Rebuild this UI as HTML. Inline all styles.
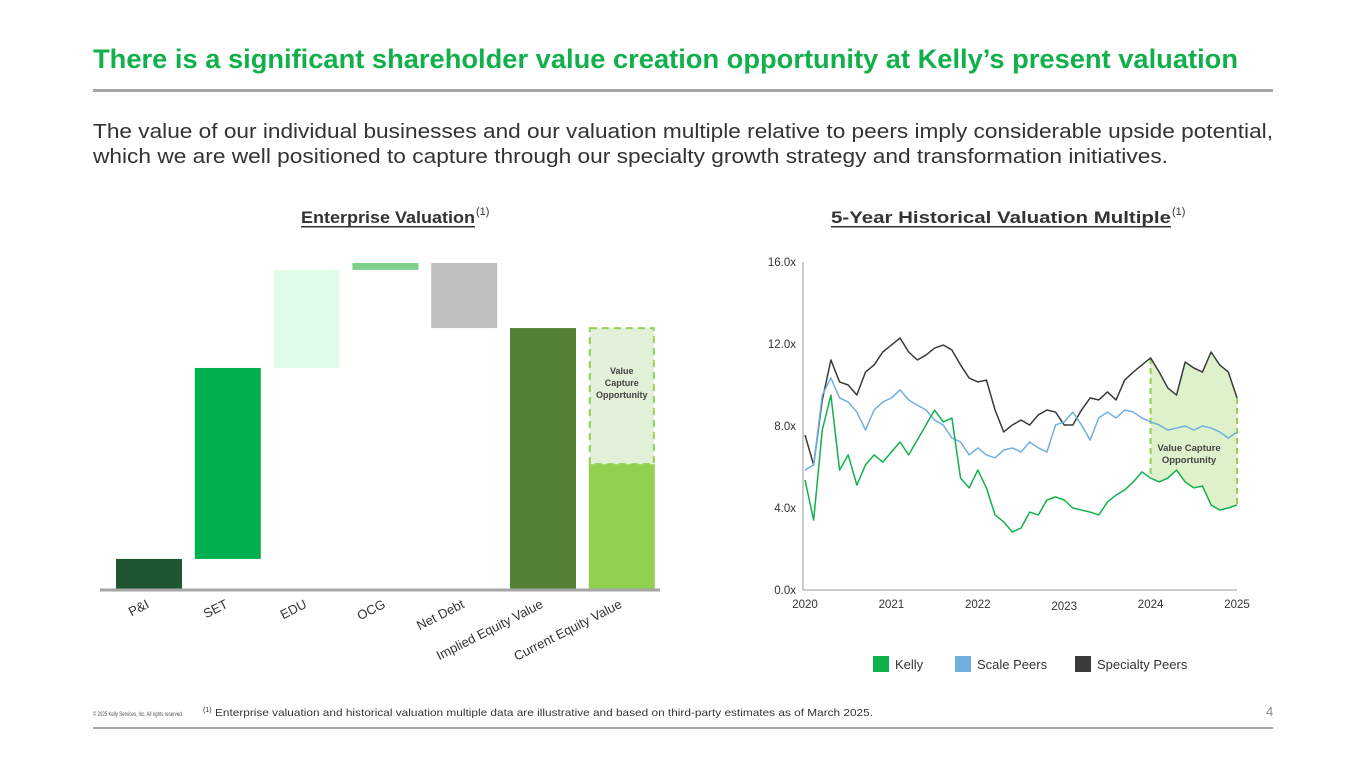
<!DOCTYPE html>
<html><head><meta charset="utf-8"><style>
html,body{margin:0;padding:0;background:#fff;}
svg{display:block;font-family:"Liberation Sans",sans-serif;}
</style></head><body>
<svg id="page" width="1365" height="768" viewBox="0 0 1365 768">
  <text x="93" y="68" font-size="27" font-weight="bold" fill="#12b04c" textLength="1145" lengthAdjust="spacingAndGlyphs">There is a significant shareholder value creation opportunity at Kelly’s present valuation</text>
  <rect x="93" y="89" width="1180" height="3" fill="#a6a6a6"/>
  <text x="93" y="138" font-size="20" fill="#333" textLength="1180" lengthAdjust="spacingAndGlyphs">The value of our individual businesses and our valuation multiple relative to peers imply considerable upside potential,</text>
  <text x="93" y="163" font-size="20" fill="#333" textLength="1075" lengthAdjust="spacingAndGlyphs">which we are well positioned to capture through our specialty growth strategy and transformation initiatives.</text>

  <text x="301" y="223" font-size="17" font-weight="bold" fill="#333" textLength="174" lengthAdjust="spacingAndGlyphs">Enterprise Valuation</text>
  <text x="476" y="215" font-size="11" fill="#333">(1)</text>
  <rect x="301" y="226" width="174" height="1.5" fill="#333"/>

  <text x="831" y="223" font-size="17" font-weight="bold" fill="#333" textLength="340" lengthAdjust="spacingAndGlyphs">5-Year Historical Valuation Multiple</text>
  <text x="1172" y="215" font-size="11" fill="#333">(1)</text>
  <rect x="831" y="226" width="340" height="1.5" fill="#333"/>

  <g id="waterfall"></g>
  <g id="linechart"></g>

  <text x="93" y="716" font-size="6.5" fill="#555" textLength="90" lengthAdjust="spacingAndGlyphs">© 2025 Kelly Services, Inc. All rights reserved.</text>
  <text x="203" y="712" font-size="7" fill="#333">(1)</text>
  <text x="215" y="716" font-size="10.5" fill="#333" textLength="658" lengthAdjust="spacingAndGlyphs">Enterprise valuation and historical valuation multiple data are illustrative and based on third-party estimates as of March 2025.</text>
  <text x="1266" y="716" font-size="13" fill="#888">4</text>
  <rect x="93" y="727" width="1180" height="2" fill="#a6a6a6"/>
</svg>
<script>
const NS="http://www.w3.org/2000/svg";
function mk(tag,attrs,parent){const e=document.createElementNS(NS,tag);for(const k in attrs)e.setAttribute(k,attrs[k]);parent.appendChild(e);return e;}

// ---------- Waterfall data ----------
const wfCategories=["P&I","SET","EDU","OCG","Net Debt","Implied Equity Value","Current Equity Value"];
const wfDeltas=[9.5,58.4,30.0,2.1,-19.9];
const wfImplied=80.1;
const wfCurrent=38.5;

const wf=document.getElementById('waterfall');
const wfBase=590, wfScale=3.27, wfX0=116, wfStep=78.8, wfW=66;
const yv=v=>wfBase-v*wfScale;
const wfColors=["#1e5631","#00b04f","#e0fbe8","#7ecf8c","#bfbfbf"];
let run=0;
wfDeltas.forEach((d,i)=>{
  const a=run, b=run+d; run=b;
  const r=mk('rect',{x:wfX0+i*wfStep,y:yv(Math.max(a,b)),width:wfW,height:Math.abs(d)*wfScale,fill:wfColors[i]},wf);
  
  
});
{
  const r=mk('rect',{x:wfX0+5*wfStep,y:yv(wfImplied),width:wfW,height:wfImplied*wfScale,fill:"#538135"},wf);
  
  
  const c=mk('rect',{x:wfX0+6*wfStep,y:yv(wfCurrent),width:wfW,height:wfCurrent*wfScale,fill:"#92d050"},wf);
  
  
  const g=mk('rect',{x:wfX0+6*wfStep+1,y:yv(wfImplied),width:wfW-2,height:(wfImplied-wfCurrent)*wfScale,fill:"#e2efd9",stroke:"#92d050","stroke-width":2,"stroke-dasharray":"7,5"},wf);
  
  
  const cx=wfX0+6*wfStep+wfW/2, cy=yv((wfImplied+wfCurrent)/2)-22;
  ["Value","Capture","Opportunity"].forEach((t,i)=>{
    const tx=mk('text',{x:cx,y:cy+i*12,"font-size":9,"font-weight":"bold",fill:"#444","text-anchor":"middle"},wf);
    tx.textContent=t;
    
    
  });
}
{
  const ax=mk('line',{x1:100,x2:660,y1:wfBase,y2:wfBase,stroke:"#a6a6a6","stroke-width":3},wf);
  
  
}
wfCategories.forEach((c,i)=>{
  const ex=wfX0+i*wfStep+wfW/2+1, ey=607;
  const t=mk('text',{x:ex,y:ey,"font-size":13,fill:"#333","text-anchor":"end",transform:`rotate(-27 ${ex} ${ey})`},wf);
  t.textContent=c;
  
  
});

// ---------- Line chart data ----------
const lcDates=[];for(let i=0;i<=50;i++)lcDates.push(2020+i*0.1);
const kellyValues=[5.37,3.41,7.8,9.51,5.85,6.59,5.12,6.1,6.59,6.24,6.73,7.22,6.59,7.32,8.05,8.78,8.2,8.39,5.46,4.98,5.85,4.98,3.66,3.32,2.83,3.02,3.8,3.66,4.39,4.54,4.39,4.0,3.9,3.8,3.66,4.29,4.63,4.88,5.27,5.76,5.46,5.27,5.46,5.85,5.27,4.98,5.07,4.15,3.9,4.0,4.15];
const scaleValues=[5.85,6.1,9.51,10.34,9.37,9.17,8.68,7.8,8.78,9.17,9.37,9.76,9.27,9.02,8.78,8.29,8.05,7.41,7.22,6.59,6.93,6.59,6.44,6.83,6.93,6.73,7.22,6.93,6.73,8.05,8.2,8.68,8.05,7.32,8.39,8.68,8.39,8.78,8.68,8.39,8.2,8.05,7.8,7.9,8.0,7.8,8.0,7.9,7.71,7.41,7.71];
const specialtyValues=[7.56,6.1,9.27,11.22,10.15,10.0,9.51,10.63,10.98,11.61,11.95,12.29,11.61,11.22,11.46,11.8,11.95,11.71,10.98,10.34,10.15,10.24,8.78,7.71,8.05,8.29,8.05,8.54,8.78,8.68,8.05,8.05,8.78,9.37,9.27,9.66,9.27,10.24,10.63,10.98,11.32,10.63,9.85,9.51,11.12,10.83,10.63,11.61,10.98,10.63,9.37];
const yTicks=[0,4,8,12,16];
const yTickLabels=["0.0x","4.0x","8.0x","12.0x","16.0x"];
const xTicks=[2020,2021,2022,2023,2024,2025];
const shadeStart=2024.0;

const lc=document.getElementById('linechart');
const X=d=>805+(d-2020)*86.4;
const Y=v=>590-v*20.5;
{
  const a=mk('line',{x1:803,x2:1237,y1:590,y2:590,stroke:"#999","stroke-width":1},lc);
  
  
  const b=mk('line',{x1:803,x2:803,y1:262,y2:590,stroke:"#999","stroke-width":1},lc);
  
  
}
yTicks.forEach((v,i)=>{
  const t=mk('text',{x:796,y:Y(v)+4,"font-size":11.5,fill:"#333","text-anchor":"end"},lc);
  t.textContent=yTickLabels[i];
  
  
});
xTicks.forEach(v=>{
  const t=mk('text',{x:X(v),y:608+(v===2023?2:0),"font-size":11.5,fill:"#333","text-anchor":"middle"},lc);
  t.textContent=v;
  
  
});
{
  const idx=lcDates.map((d,i)=>i).filter(i=>lcDates[i]>=shadeStart-1e-9);
  let pts=idx.map(i=>X(lcDates[i])+','+Y(specialtyValues[i]));
  pts=pts.concat(idx.slice().reverse().map(i=>X(lcDates[i])+','+Y(kellyValues[i])));
  const p=mk('polygon',{points:pts.join(' '),fill:"#92d050","fill-opacity":0.3},lc);
  
  
  const f=idx[0], l=idx[idx.length-1];
  [f,l].forEach(i=>{
    const d=mk('line',{x1:X(lcDates[i]),x2:X(lcDates[i]),y1:Y(specialtyValues[i]),y2:Y(kellyValues[i]),stroke:"#92d050","stroke-width":2,"stroke-dasharray":"6,4"},lc);
    
    
  });
}
function drawLine(vals,color,name){
  const p=mk('polyline',{points:vals.map((v,i)=>X(lcDates[i])+','+Y(v)).join(' '),fill:"none",stroke:color,"stroke-width":1.5,"stroke-linejoin":"round"},lc);
  
  
}
drawLine(specialtyValues,"#3a3a3a","specialty-peers-line");
drawLine(scaleValues,"#6fb0e0","scale-peers-line");
drawLine(kellyValues,"#12b04c","kelly-line");
["Value Capture","Opportunity"].forEach((t,i)=>{
  const tx=mk('text',{x:1189,y:451+i*12,"font-size":9.5,"font-weight":"bold",fill:"#444","text-anchor":"middle"},lc);
  tx.textContent=t;
  
  
});
[["Kelly","#12b04c",873],["Scale Peers","#6fb0e0",955],["Specialty Peers","#3a3a3a",1075]].forEach(([n,c,x])=>{
  const r=mk('rect',{x:x,y:656,width:16,height:16,fill:c},lc);
  
  
  const t=mk('text',{x:x+22,y:669,"font-size":13,fill:"#333"},lc);
  t.textContent=n;
  
  
});
</script>
</body></html>
